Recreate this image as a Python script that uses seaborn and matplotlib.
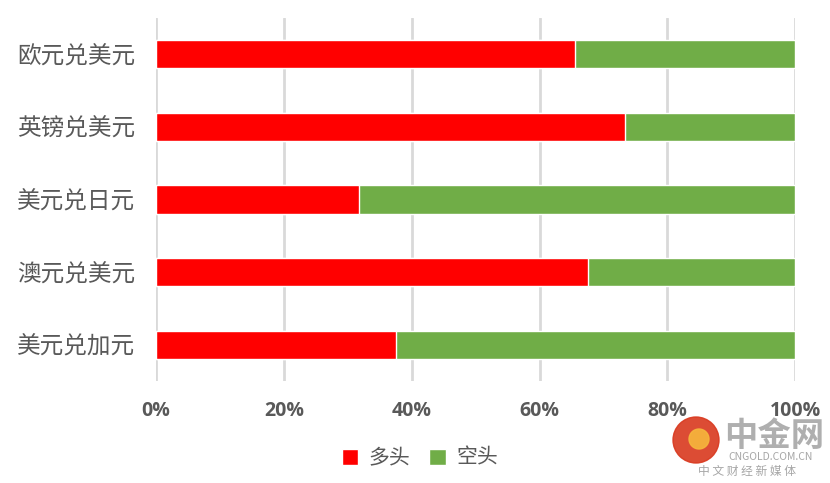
import numpy as np
import pandas as pd
import matplotlib
matplotlib.use('Agg')
import matplotlib.pyplot as plt
import seaborn as sns
from matplotlib.patches import Circle

# data
pairs = ['欧元兑美元', '英镑兑美元', '美元兑日元', '澳元兑美元', '美元兑加元']
long_pct = [65.6, 73.4, 31.8, 67.6, 37.6]
short_pct = [100 - v for v in long_pct]
xticks = [0, 20, 40, 60, 80, 100]

sns.set_theme(style='white')
plt.rcParams['font.family'] = ['Noto Sans CJK SC', 'DejaVu Sans']

df = pd.DataFrame({'pair': pairs, 'long': long_pct, 'short': short_pct})
df['total'] = df['long'] + df['short']

fig = plt.figure(figsize=(8.3, 4.83), dpi=100)
ax = fig.add_axes([0.188, 0.211, 0.770, 0.752])

red = '#ff0000'
green = '#70ad47'
sns.barplot(data=df, y='pair', x='total', color=green, orient='h', width=0.39,
            saturation=1, ax=ax, label='空头')
sns.barplot(data=df, y='pair', x='long', color=red, orient='h', width=0.39,
            saturation=1, ax=ax, label='多头')
if ax.get_legend() is not None:
    ax.get_legend().remove()

ax.set_xlim(0, 100)
ax.set_ylim(4.5, -0.5)
ax.set_xticks(xticks)
ax.set_xticklabels([f'{t}%' for t in xticks], fontfamily='Open Sans',
                   fontweight='bold', fontsize=14, color='#595959')
ax.tick_params(axis='x', length=0, pad=14)
ax.tick_params(axis='y', length=0, pad=15)
for lab in ax.get_yticklabels():
    lab.set_fontsize(17)
    lab.set_color('#595959')
ax.set_xlabel('')
ax.set_ylabel('')
ax.grid(axis='x', color='#d9d9d9', linewidth=2)
ax.set_axisbelow(True)
for s in ax.spines.values():
    s.set_visible(False)

handles, labels = ax.get_legend_handles_labels()
order = [labels.index('多头'), labels.index('空头')]
leg = fig.legend([handles[i] for i in order], [labels[i] for i in order],
                 loc='center', bbox_to_anchor=(0.506, 0.052), ncol=2, frameon=False,
                 fontsize=15, handlelength=0.8, handleheight=0.8, columnspacing=0.9,
                 handletextpad=0.5)
for t in leg.get_texts():
    t.set_color('#595959')

# watermark
fig.patches.append(Circle((696, 483 - 440), 23, transform=None, color='#d9381e',
                          alpha=0.9, zorder=5))
fig.patches.append(Circle((699, 483 - 439), 10, transform=None, color='#f6b73c',
                          alpha=0.9, zorder=6))
fig.text(0.872, 0.097, '中金网', fontsize=24, color='#a6a6a6', fontweight='bold',
         ha='left', va='center', alpha=0.9)
fig.text(0.928, 0.054, 'CNGOLD.COM.CN', fontsize=7.5, color='#a6a6a6', ha='center', va='center')
fig.text(0.9, 0.010, '中 文 财 经 新 媒 体', fontsize=8.5, color='#a6a6a6',
         ha='center', va='bottom')

fig.savefig('out.png', dpi=100)
